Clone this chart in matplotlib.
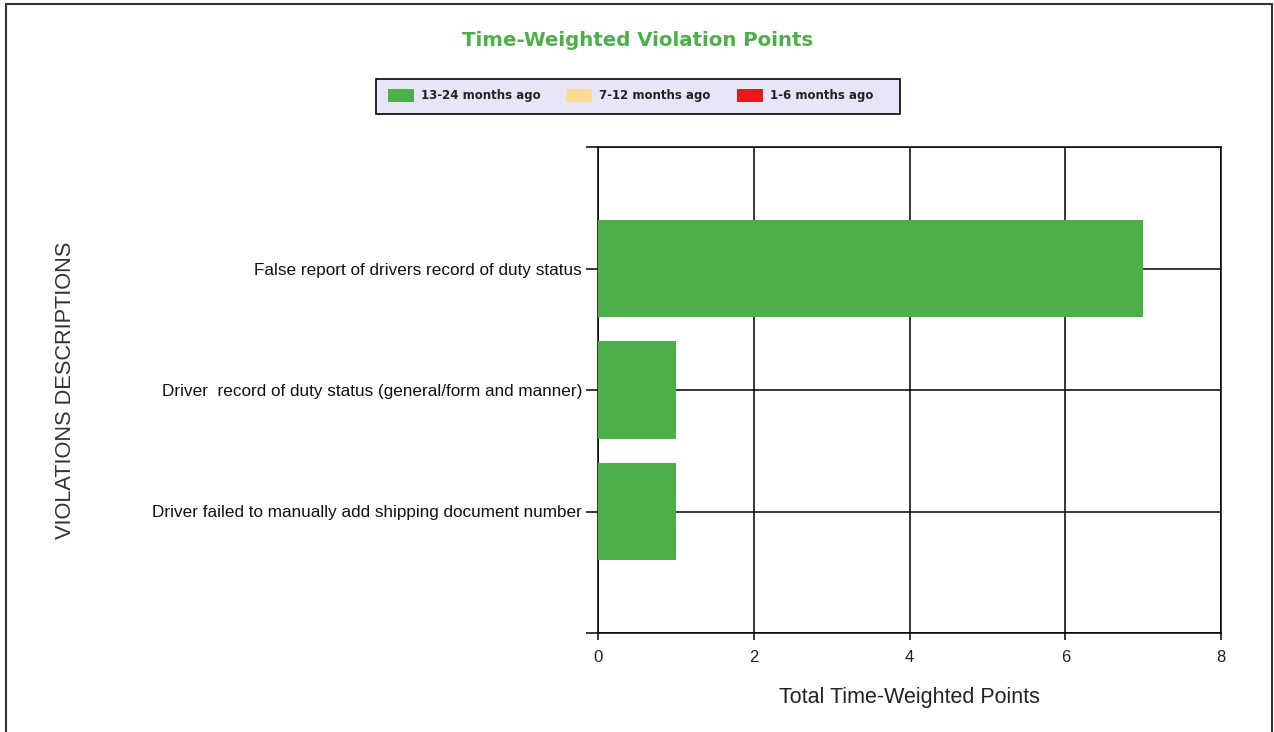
import matplotlib.pyplot as plt
from matplotlib.patches import Patch, Rectangle
import numpy as np

# Данные
violations = ['Driver failed to manually add shipping document number',
              'Driver  record of duty status (general/form and manner)',
              'False report of drivers record of duty status']
pts_13_24 = [1, 1, 7]
pts_7_12 = [0, 0, 0]
pts_1_6 = [0, 0, 0]
series_labels = ['13-24 months ago', '7-12 months ago', '1-6 months ago']
series_colors = ['#4caf4a', '#ffd996', '#e41a1c']
x_ticks = [0, 2, 4, 6, 8]

W, H = 1274, 732
fig = plt.figure(figsize=(W / 100, H / 100), dpi=100)
ax = fig.add_axes([598 / W, 1 - 633 / H, (1221 - 598) / W, (633 - 147) / H])

pos = np.arange(1, len(violations) + 1)
left = np.zeros(len(violations))
for vals, lab, col in zip([pts_13_24, pts_7_12, pts_1_6], series_labels, series_colors):
    ax.barh(pos, vals, height=0.8, left=left, color=col, label=lab, zorder=3)
    left += np.array(vals)

ax.set_xlim(0, 8)
ax.set_ylim(0, 4)
ax.set_xticks(x_ticks)
ax.set_yticks(range(0, 5))
ax.set_yticklabels([''] + violations + [''], fontsize=12.3, family='Liberation Sans', color='#111111')
ax.set_xticklabels([str(t) for t in x_ticks], fontsize=12, family='Liberation Sans', color='#222222')
ax.tick_params(axis='y', length=8.6, width=1.1, pad=3)
ax.tick_params(axis='x', length=5, width=1.1, pad=7)
ax.grid(True, color='black', linewidth=1.1, zorder=1)
for s in ax.spines.values():
    s.set_linewidth(1.1)
    s.set_zorder(2)

ax.set_xlabel('Total Time-Weighted Points', fontsize=15.5, family='Liberation Sans', labelpad=16, color='#222222')
fig.text(66 / W, 1 - 390 / H, 'VIOLATIONS DESCRIPTIONS', rotation=90, ha='center', va='center',
         fontsize=15.7, family='Liberation Sans', color='#333333')

fig.text(638 / W, 1 - 41 / H, 'Time-Weighted Violation Points', ha='center', va='center',
         fontsize=14.2, fontweight='bold', color='#4caf4a')

# рамка легенды рисуется отдельно
fig.patches.append(Rectangle((376 / W, 1 - 114 / H), (900 - 376) / W, (114 - 79) / H,
                             transform=fig.transFigure, facecolor='#e6e6f8', edgecolor='black',
                             linewidth=1.2, zorder=1))
handles = [Patch(facecolor=c, label=l) for c, l in zip(series_colors, series_labels)]
leg = fig.legend(handles=handles, ncol=3, loc='center', bbox_to_anchor=(630.5 / W, 1 - 95.5 / H),
                 prop={'weight': 'bold', 'size': 8.5}, frameon=False,
                 handlelength=2.2, handleheight=1.35, handletextpad=0.6,
                 columnspacing=2.2, borderpad=0.85)
leg.set_zorder(5)
for t in leg.get_texts():
    t.set_color('#222222')

# рамка вокруг рисунка (снизу нет линии)
fig.patches.append(Rectangle((6 / W, -0.05), (1272 - 6) / W, 1.05 - 4 / H, transform=fig.transFigure,
                             fill=False, edgecolor='#333333', linewidth=1.5))

plt.savefig('out.png', dpi=100)
plt.close()
